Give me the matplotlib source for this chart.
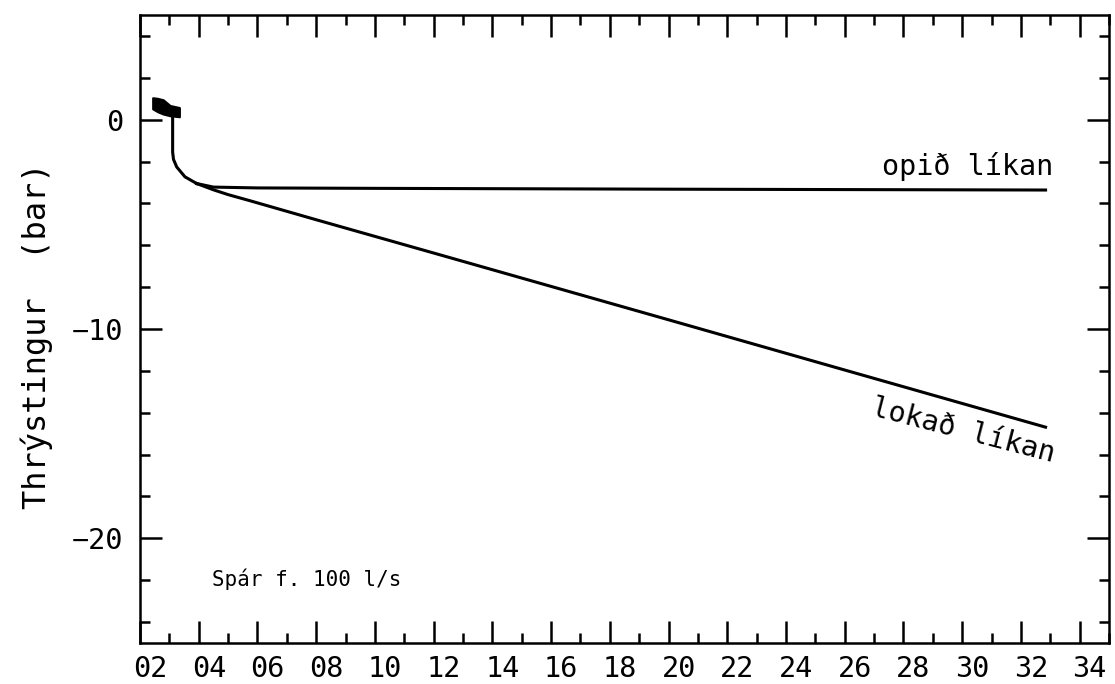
import numpy as np
import matplotlib
matplotlib.use("Agg")
import matplotlib.pyplot as plt
from matplotlib.ticker import MultipleLocator, FuncFormatter
from matplotlib.transforms import ScaledTranslation

# measured pressure (thick band at start)
obs_x = [2.43, 2.6, 2.79, 3.02, 3.34]
obs_hi = [1.05, 1.02, 0.95, 0.68, 0.58]
obs_lo = [0.52, 0.38, 0.27, 0.19, 0.14]

# model prediction, common start
start_x = [3.11, 3.11, 3.14, 3.25, 3.53, 3.93]
start_y = [0.2, -1.55, -1.9, -2.26, -2.73, -3.05]

# open model
open_x = [3.93, 4.5, 6.0, 10.0, 20.0, 32.84]
open_y = [-3.05, -3.22, -3.26, -3.28, -3.32, -3.36]

# closed model
closed_x = [3.93, 4.5, 5.0, 5.74, 8.0, 12.0, 20.0, 26.0, 32.84]
closed_y = [-3.05, -3.35, -3.58, -3.87, -4.78, -6.37, -9.56, -11.96, -14.69]

FONT = "DejaVu Sans Mono"

fig = plt.figure(figsize=(11.15, 6.84), dpi=100)
ax = fig.add_axes([0.1256, 0.06, 0.8690, 0.918])

ax.fill_between(obs_x, obs_lo, obs_hi, color="black", lw=1.5)
ax.plot(start_x, start_y, color="black", lw=2.2)
ax.plot(open_x, open_y, color="black", lw=2.2)
ax.plot(closed_x, closed_y, color="black", lw=2.2)

ax.set_xlim(2, 35)
ax.set_ylim(-25, 5)

ax.xaxis.set_major_locator(MultipleLocator(2))
ax.xaxis.set_minor_locator(MultipleLocator(1))
ax.yaxis.set_major_locator(MultipleLocator(10))
ax.yaxis.set_minor_locator(MultipleLocator(2))
ax.xaxis.set_major_formatter(FuncFormatter(lambda v, p: "%02d" % int(round(v))))
ax.yaxis.set_major_formatter(FuncFormatter(lambda v, p: "%d" % int(round(v)) if v >= 0 else "\u2212%d" % int(round(-v))))

ax.tick_params(which="both", direction="in", top=True, right=True, width=1.8, colors="black")
ax.tick_params(which="major", length=16)
ax.tick_params(which="minor", length=7.5)
ax.tick_params(axis="x", pad=9)
ax.tick_params(axis="y", pad=12)
for lab in ax.get_xticklabels() + ax.get_yticklabels():
    lab.set_fontfamily(FONT)
    lab.set_fontsize(20.5)
off = ScaledTranslation(10 / 100, 0, fig.dpi_scale_trans)
for lab in ax.get_xticklabels():
    lab.set_transform(lab.get_transform() + off)

for s in ax.spines.values():
    s.set_linewidth(1.8)

ax.set_ylabel("Thrýstingur  (bar)", fontfamily=FONT, fontsize=23)
ax.yaxis.set_label_coords(-0.09, 0.49)

ax.text(33.1, -2.25, "opið líkan", fontfamily=FONT, fontsize=20.5, ha="right", va="center")
ax.text(30.05, -14.85, "lokað líkan", fontfamily=FONT, fontsize=20.5, ha="center", va="center",
        rotation=-14.5, rotation_mode="anchor")
ax.text(4.45, -21.95, "Spár f. 100 l/s", fontfamily=FONT, fontsize=15, ha="left", va="center")

fig.savefig("out.png", dpi=100)
